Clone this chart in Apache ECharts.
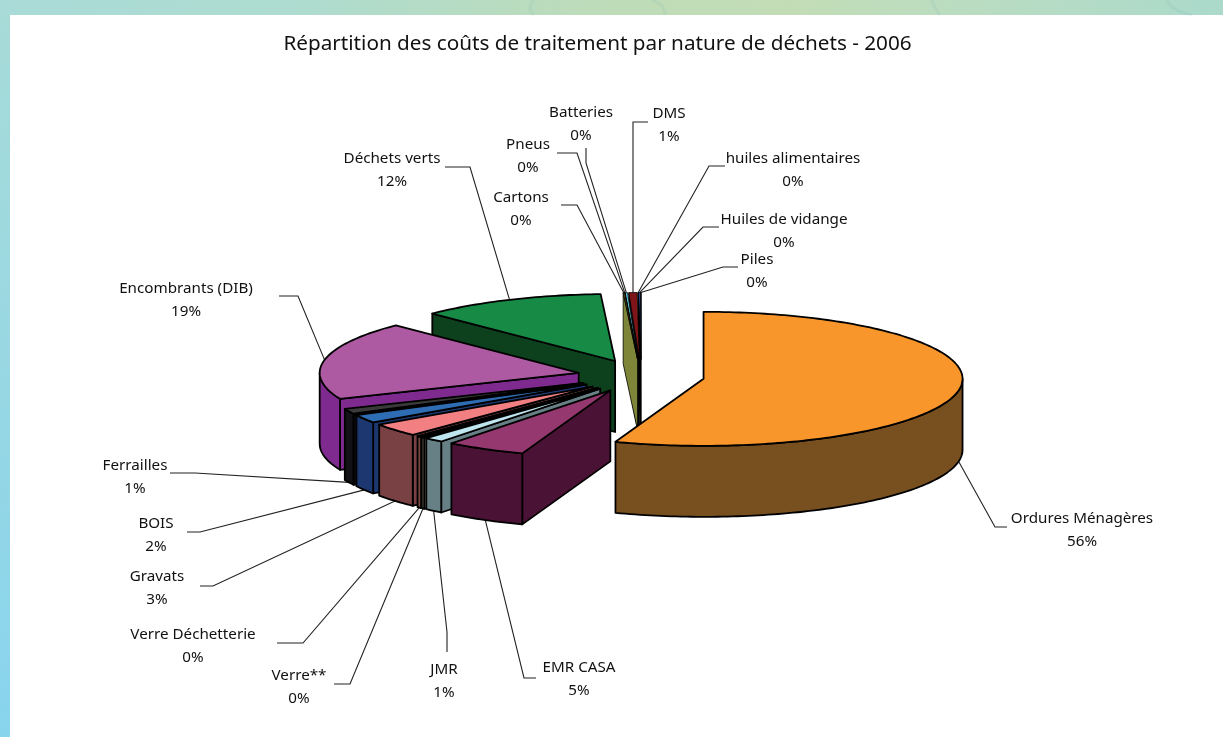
<!DOCTYPE html>
<html>
<head>
<meta charset="utf-8">
<style>html,body{margin:0;padding:0;background:#fff}#c{width:1223px;height:737px}</style>
<script src="https://cdn.jsdelivr.net/npm/echarts@6/dist/echarts.min.js"></script>
</head>
<body>
<div id="c"></div>
<script>
const categories = ['Ordures Ménagères','EMR CASA','JMR','Verre**','Verre Déchetterie','Gravats','BOIS','Ferrailles','Encombrants (DIB)','Déchets verts','Cartons','Pneus','Batteries','DMS','huiles alimentaires','Huiles de vidange','Piles'];
const shares = [55.6,5.0,1.2,0.2,0.3,3.2,2.0,1.25,18.9,11.6,0.08,0.01,0.15,0.51,0.01,0.12,0.01];
const topColors = ['#F9962B','#963870','#BFE6EE','#F5F1C4','#8A5A4A','#F28083','#2E6DB4','#3A3A3A','#AD5AA3','#178A46','#8A8C3C','#1D2F5A','#5CC8E0','#7F1518','#111111','#3557A8','#111111'];
const wallColors = ['#784F1E','#4A1235','#668086','#85856F','#7A4A40','#7A4144','#1D3870','#111116','#7F2A8F','#0D401C','#7F8538','#111111','#111111','#111111','#000000','#111111','#000000'];

// pie layout
const CX = 641, CY = 376, RX = 259, RY = 67, DEPTH = 71, EXPLODE = 63.5;
// label placement: [centre x, first line y, knee x, knee y, end x, end y]
const labelBoxes = [
  [1082,519, 995,527, 1007,527],
  [579,668, 524,678, 536,678],
  [444,670, 447,632, 447,652],
  [299,676, 350,684, 334,684],
  [193,635, 303,643, 277,643],
  [157,577, 213,586, 200,586],
  [156,524, 200,532, 187,532],
  [135,466, 195,473, 170,473],
  [186,289, 298,296, 279,296],
  [392,159, 470,167, 445,167],
  [521,198, 577,205, 561,205],
  [528,145, 577,153, 557,153],
  [581,113, 586,163, 586,148],
  [669,114, 633,122, 648,122],
  [793,159, 709,166, 725,166],
  [784,220, 703,227, 719,227],
  [757,260, 723,267, 738,267]
];
const FONT = '"Noto Sans", sans-serif';

const total = shares.reduce((a, b) => a + b, 0);
let run = 0;
const slices = shares.map((v, i) => {
  const a = run / total * 2 * Math.PI;
  run += v;
  const b = run / total * 2 * Math.PI;
  const m = (a + b) / 2;
  return { i, a, b, m,
    ox: CX + EXPLODE * Math.sin(m),
    oy: CY - EXPLODE * (RY / RX) * Math.cos(m) };
});
const pt = (s, t, dz) => [s.ox + RX * Math.sin(t), s.oy - RY * Math.cos(t) + (dz || 0)];
function arc(s, t0, t1, dz) {
  const n = Math.max(2, Math.ceil(Math.abs(t1 - t0) / 0.02));
  const out = [];
  for (let k = 0; k <= n; k++) out.push(pt(s, t0 + (t1 - t0) * k / n, dz));
  return out;
}
const drawOrder = slices.slice().sort((p, q) => Math.cos(q.m) - Math.cos(p.m));

function renderSlice(params) {
  const s = drawOrder[params.dataIndex];
  const wall = wallColors[s.i], top = topColors[s.i];
  const lineWidth = shares[s.i] < 1 && s.i >= 10 ? 0.8 : 1.8;
  const kids = [];
  const poly = (points, fill) => kids.push({ type: 'polygon', shape: { points }, style: { fill, stroke: '#000', lineWidth, lineJoin: 'round' } });
  const apex = [s.ox, s.oy], apexB = [s.ox, s.oy + DEPTH];
  if (Math.sin(s.b) > 1e-6) poly([apex, pt(s, s.b), pt(s, s.b, DEPTH), apexB], wall);
  if (Math.sin(s.a) < -1e-6) poly([apex, pt(s, s.a), pt(s, s.a, DEPTH), apexB], wall);
  const lo = Math.max(s.a, Math.PI / 2), hi = Math.min(s.b, 1.5 * Math.PI);
  if (hi > lo) poly(arc(s, lo, hi).concat(arc(s, hi, lo, DEPTH)), wall);
  poly([apex].concat(arc(s, s.a, s.b)), top);
  return { type: 'group', children: kids };
}
function renderLabel(params) {
  const s = slices[params.dataIndex];
  const box = labelBoxes[s.i];
  const front = Math.cos(s.m) < 0;
  const anchor = pt(s, s.m, front ? DEPTH : 0);
  const pct = Math.round(shares[s.i] / total * 100) + '%';
  const txt = (t, y) => ({ type: 'text', style: { text: t, x: box[0], y, textAlign: 'center', textVerticalAlign: 'middle', font: '15.2px ' + FONT, fill: '#111' } });
  return { type: 'group', children: [
    { type: 'polyline', shape: { points: [anchor, [box[2], box[3]], [box[4], box[5]]] }, style: { stroke: '#222', lineWidth: 1.1, fill: null } },
    txt(categories[s.i], box[1]),
    txt(pct, box[1] + 23)
  ] };
}
const decor = (x1, y1, cx, cy, x2, y2) => ({ type: 'bezierCurve', z: -9, silent: true,
  shape: { x1, y1, cpx1: cx, cpy1: cy, x2, y2 },
  style: { stroke: 'rgba(120,175,175,0.14)', lineWidth: 3, fill: null } });

const chart = echarts.init(document.getElementById('c'), null, { renderer: 'canvas' });
chart.setOption({
  animation: false,
  backgroundColor: '#fff',
  title: { text: 'Répartition des coûts de traitement par nature de déchets - 2006', left: 592.5, top: 29, textAlign: 'center',
    textStyle: { fontFamily: FONT, fontSize: 20.7, fontWeight: 'normal', color: '#111' } },
  graphic: [
    { type: 'rect', z: -10, shape: { x: 0, y: 0, width: 1223, height: 15 }, silent: true,
      style: { fill: new echarts.graphic.LinearGradient(0, 0, 1, 0, [
        { offset: 0, color: '#A9DBD8' }, { offset: 0.25, color: '#AEDCCF' }, { offset: 0.5, color: '#BEDCB8' },
        { offset: 0.65, color: '#C2DDB6' }, { offset: 0.82, color: '#B8DCC3' }, { offset: 1, color: '#ABDACB' }]) } },
    { type: 'rect', z: -10, shape: { x: 0, y: 15, width: 10, height: 722 }, silent: true,
      style: { fill: new echarts.graphic.LinearGradient(0, 0, 0, 1, [
        { offset: 0, color: '#A7DBD8' }, { offset: 1, color: '#88D4EE' }]) } },
    decor(534, 0, 526, 8, 534, 15), decor(652, 0, 666, 5, 665, 15),
    decor(932, 0, 934, 8, 940, 15), decor(1167, 0, 1170, 10, 1192, 15)
  ],
  series: [
    { type: 'custom', coordinateSystem: 'none', silent: true, z: 2, clip: false,
      data: drawOrder.map(s => ({ name: categories[s.i], value: shares[s.i] })), renderItem: renderSlice },
    { type: 'custom', coordinateSystem: 'none', silent: true, z: 1, clip: false,
      data: categories.map((c, i) => ({ name: c, value: shares[i] })), renderItem: renderLabel }
  ]
});
</script>
</body>
</html>
